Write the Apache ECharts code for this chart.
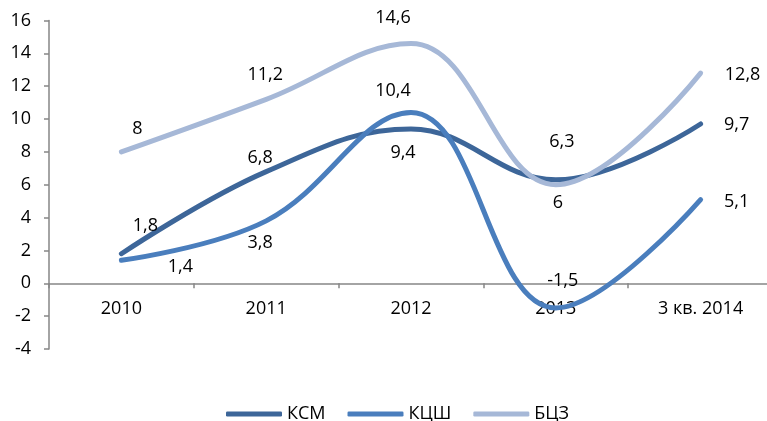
<!DOCTYPE html>
<html>
<head>
<meta charset="utf-8">
<script src="https://cdn.jsdelivr.net/npm/echarts@6/dist/echarts.min.js"></script>
<style>
  html, body { margin: 0; padding: 0; background: #fff; }
  #container { width: 767px; height: 421px; }
</style>
</head>
<body>
<div id="container"></div>
<script>
var categories = ['2010', '2011', '2012', '2013', '3 кв. 2014'];
var ksm = [1.8, 6.8, 9.4, 6.3, 9.7];
var kcsh = [1.4, 3.8, 10.4, -1.5, 5.1];
var bcz = [8, 11.2, 14.6, 6, 12.8];

// label offsets (px) from each point
var ksmOffsets = [[24, -28], [-6, -14], [-8, 24], [6, -38], [36, 1]];
var kcshOffsets = [[59, 7], [-6, 22], [-18, -22], [7, -27], [36, 2]];
var bczOffsets = [[16, -23], [-1, -24], [-18, -26], [2, 18], [42, 2]];

var fontFamily = '"Open Sans", sans-serif';
var gridTop = 20.5, gridBottom = 72, chartH = 421;

function buildData(values, offsets) {
  return values.map(function (v, i) {
    return {
      value: v,
      label: { offset: offsets[i] }
    };
  });
}

function makeSeries(name, values, offsets, color) {
  return {
    name: name,
    type: 'line',
    smooth: 0.4,
    symbol: 'circle',
    symbolSize: 1,
    itemStyle: { color: color },
    lineStyle: { color: color, width: 5, cap: 'round' },
    label: {
      show: true,
      position: 'inside',
      align: 'center',
      verticalAlign: 'middle',
      color: '#000',
      fontFamily: fontFamily,
      fontSize: 18,
      formatter: function (p) {
        return String(p.value).replace('.', ',');
      }
    },
    emphasis: { disabled: true },
    data: buildData(values, offsets)
  };
}

// move the x axis (line, ticks, labels) up to the zero level
var plotH = chartH - gridTop - gridBottom;
var zeroShift = plotH * 4 / 20;

var dom = document.getElementById('container');
var myChart = echarts.init(dom, null, { renderer: 'canvas' });

var option = {
  animation: false,
  backgroundColor: '#fff',
  grid: { left: 49, width: 724, top: gridTop, bottom: gridBottom, outerBoundsMode: 'none' },
  legend: {
    top: 400,
    left: 221,
    icon: 'roundRect',
    itemWidth: 56,
    itemHeight: 5,
    itemGap: 22,
    textStyle: { fontFamily: fontFamily, fontSize: 18, color: '#000' },
    data: ['КСМ', 'КЦШ', 'БЦЗ']
  },
  xAxis: {
    type: 'category',
    data: categories,
    offset: -zeroShift,
    axisLine: { onZero: false, lineStyle: { color: '#868686', width: 1.5 } },
    axisTick: { show: true, length: 5, lineStyle: { color: '#868686', width: 1.5 } },
    axisLabel: { margin: 17, color: '#000', fontFamily: fontFamily, fontSize: 18 },
    splitLine: { show: false }
  },
  yAxis: {
    type: 'value',
    min: -4,
    max: 16,
    interval: 2,
    axisLine: { show: true, lineStyle: { color: '#868686', width: 1.5 } },
    axisTick: { show: true, length: 5, lineStyle: { color: '#868686', width: 1.5 } },
    axisLabel: { margin: 18, color: '#000', fontFamily: fontFamily, fontSize: 18 },
    splitLine: { show: false }
  },
  series: [
    makeSeries('КСМ', ksm, ksmOffsets, '#3D6699'),
    makeSeries('КЦШ', kcsh, kcshOffsets, '#4A7EBD'),
    makeSeries('БЦЗ', bcz, bczOffsets, '#A6B8D7')
  ]
};

myChart.setOption(option);
window.addEventListener('resize', myChart.resize);
</script>
</body>
</html>
